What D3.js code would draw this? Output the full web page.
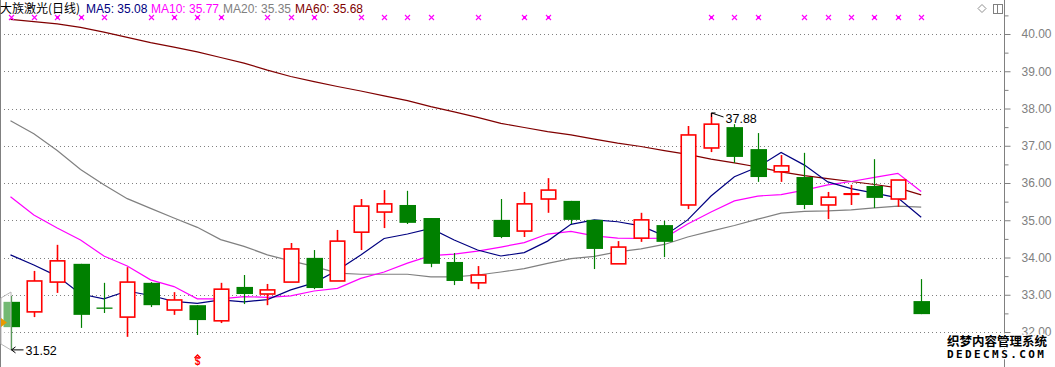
<!DOCTYPE html>
<html>
<head>
<meta charset="utf-8">
<script src="https://cdn.jsdelivr.net/npm/d3@7"></script>
<style>
html,body{margin:0;padding:0;background:#fff;}
svg{display:block;}
text{font-family:"Liberation Sans",Arial,sans-serif;}
</style>
</head>
<body>
<svg id="chart" width="1055" height="367"></svg>
<script>
// ---------- data ----------
const days = [1,2,3,4,5,6,7,8,9,10,11,12,13,14,15,16,17,18,19,20,21,22,23,24,25,26,27,28,29,30,31,32,33,34,35,36,37,38,39,40];
const open  = [32.81,32.54,33.34,33.83,32.65,32.40,33.32,32.59,32.72,32.30,33.21,33.02,33.34,33.99,33.37,34.68,35.22,35.41,35.06,33.88,33.32,35.01,34.71,35.57,35.52,35.01,33.83,34.52,34.87,35.41,36.94,37.50,36.91,36.30,36.16,35.41,35.70,35.92,35.57,32.83];
const high  = [32.97,33.64,34.34,33.83,33.32,33.74,33.34,33.07,32.72,33.32,33.53,33.29,34.39,34.20,34.74,35.57,35.81,35.79,35.06,34.12,33.77,35.57,35.76,36.13,35.52,35.01,34.44,35.20,34.98,37.53,37.88,37.58,37.34,36.75,36.81,35.76,35.95,36.64,36.08,33.42];
const low   = [31.52,32.40,33.05,32.11,32.51,31.87,32.67,32.46,31.92,32.24,32.75,32.72,33.34,33.15,33.37,34.20,34.79,34.90,33.74,33.26,33.15,34.52,34.55,35.20,34.90,33.69,33.83,34.42,34.01,35.30,36.83,36.54,36.03,36.03,35.30,35.03,35.41,35.33,35.36,32.48];
const close = [32.13,33.37,33.91,32.46,32.63,33.34,32.72,32.86,32.32,33.15,33.02,33.13,34.23,33.18,34.44,35.38,35.44,34.93,33.83,33.37,33.53,34.55,35.44,35.81,35.01,34.23,34.28,35.01,34.42,37.29,37.58,36.70,36.16,36.46,35.41,35.62,35.71,35.60,36.08,32.48];
const ma5  = [34.07,33.80,33.50,33.02,32.89,33.10,32.98,32.82,32.77,32.86,32.81,32.87,33.13,33.32,33.66,34.07,34.51,34.63,34.78,34.47,34.20,34.04,34.13,34.44,34.89,35.01,34.96,34.85,34.58,35.01,35.65,36.17,36.43,36.82,36.48,36.03,35.85,35.73,35.60,35.08];
const ma10 = [35.63,35.14,34.79,34.47,34.04,33.77,33.40,33.22,32.89,32.89,32.95,32.93,32.97,33.10,33.17,33.44,33.61,33.85,34.05,34.09,34.17,34.28,34.40,34.63,34.70,34.58,34.52,34.51,34.52,34.90,35.22,35.52,35.65,35.69,35.81,35.95,36.04,36.15,36.26,35.77];
const ma20 = [37.67,37.32,36.87,36.36,35.95,35.58,35.32,35.06,34.81,34.48,34.30,34.07,33.91,33.76,33.58,33.55,33.55,33.55,33.48,33.48,33.53,33.61,33.70,33.84,33.97,34.03,34.15,34.23,34.35,34.55,34.71,34.86,35.03,35.19,35.24,35.25,35.28,35.33,35.38,35.35];
const ma60 = [40.39,40.33,40.27,40.18,40.05,39.91,39.77,39.65,39.52,39.37,39.22,39.03,38.86,38.72,38.59,38.47,38.34,38.21,38.05,37.91,37.76,37.60,37.49,37.38,37.29,37.18,37.07,36.98,36.87,36.77,36.64,36.54,36.43,36.30,36.20,36.12,36.04,35.96,35.87,35.68];
const signalDays = [1,2,3,4,5,7,8,9,10,12,13,14,16,17,18,19,21,23,24,31,32,33,35,36,37,38,39,40];
const strongSignalDays = [3,4,8,9,10,14,23,24,31,33,38,39];
const yTicks = [32,33,34,35,36,37,38,39,40];
const yMinorTicks = [32.5,33.5,34.5,35.5,36.5,37.5,38.5,39.5,40.5];
const title = "大族激光(日线)";
const maNames = ["MA5","MA10","MA20","MA60"];
const highLabel = 37.88;
const lowLabel = 31.52;

// ---------- setup ----------
const svg = d3.select("#chart");
const W = 1055, H = 367;
const axisX = 1004.5;
const x = d3.scalePoint().domain(days).range([10.5, 921.2]);
const y = d3.scaleLinear().domain([32, 40]).range([332, 34]);
const bodyW = 16;

const rows = days.map((d,i)=>({d, o:open[i], h:high[i], l:low[i], c:close[i]}));

// grid (dotted)
svg.append("g").selectAll("line").data(yTicks).join("line")
  .attr("x1", 0).attr("x2", axisX)
  .attr("y1", d=>Math.round(y(d))+0.5).attr("y2", d=>Math.round(y(d))+0.5)
  .attr("stroke", "#808080").attr("stroke-dasharray", "1,3");

// left border
svg.append("line").attr("x1",0.5).attr("x2",0.5).attr("y1",0).attr("y2",H)
  .attr("stroke","#808080").attr("stroke-width",1);

// right axis
const axMajor = d3.axisRight(y).tickValues(yTicks).tickSize(6).tickPadding(11).tickFormat(d3.format(".2f"));
const gA = svg.append("g").attr("transform", `translate(${axisX},0)`).call(axMajor);
gA.select(".domain").remove();
gA.selectAll(".tick line").attr("stroke","#808080");
gA.selectAll(".tick text").attr("fill","#808080").style("font-size","12px").style("font-family",'"Liberation Sans",Arial,sans-serif');
const axMinor = d3.axisRight(y).tickValues(yMinorTicks).tickSize(4).tickFormat("");
const gM = svg.append("g").attr("transform", `translate(${axisX},0)`).call(axMinor);
gM.select(".domain").remove();
gM.selectAll(".tick line").attr("stroke","#808080");
svg.append("line").attr("x1",axisX).attr("x2",axisX).attr("y1",0).attr("y2",H).attr("stroke","#808080");

// MA lines
const maColors = ["#000080","#FF00FF","#808080","#800000"];
const maData = [ma5, ma10, ma20, ma60];
const lineGen = d3.line().x((v,i)=>x(days[i])).y(v=>y(v));
[3,2,1,0].forEach(k=>{
  svg.append("path").datum(maData[k]).attr("d", lineGen)
    .attr("fill","none").attr("stroke", maColors[k]).attr("stroke-width", 1.2);
});

// candles
const gC = svg.append("g");
rows.forEach(r=>{
  const cx = Math.round(x(r.d)) + 0.5;
  const up = r.c > r.o;
  const col = up ? "#FF0000" : "#008000";
  const top = y(Math.max(r.o, r.c)), bot = y(Math.min(r.o, r.c));
  if (up) {
    gC.append("line").attr("x1",cx).attr("x2",cx).attr("y1",y(r.h)).attr("y2",top)
      .attr("stroke",col).attr("stroke-width",1.6);
    gC.append("line").attr("x1",cx).attr("x2",cx).attr("y1",bot).attr("y2",y(r.l))
      .attr("stroke",col).attr("stroke-width",1.6);
    const hgt = Math.max(bot-top, 0.5);
    gC.append("rect").attr("x",cx-bodyW/2+0.75).attr("y",top).attr("width",bodyW-1.5).attr("height",hgt)
      .attr("fill","#fff").attr("fill-opacity", hgt < 2 ? 0 : 1).attr("stroke",col).attr("stroke-width",1.6);
  } else {
    gC.append("line").attr("x1",cx).attr("x2",cx).attr("y1",y(r.h)).attr("y2",y(r.l))
      .attr("stroke",col).attr("stroke-width",1.2);
    const hgt = bot-top;
    if (hgt < 2) {
      gC.append("line").attr("x1",cx-bodyW/2).attr("x2",cx+bodyW/2).attr("y1",(top+bot)/2).attr("y2",(top+bot)/2)
        .attr("stroke",col).attr("stroke-width",1.3);
    } else {
      gC.append("rect").attr("x",cx-bodyW/2).attr("y",top).attr("width",bodyW+0.5).attr("height",hgt).attr("fill",col);
    }
  }
});

// left overlay shape
svg.append("path").attr("d","M11,292 L1,298 L1,344 L11,350 Z")
  .attr("fill","#ffffff").attr("fill-opacity",0.45).attr("stroke","#b8b8b8").attr("stroke-width",1);
svg.append("path").attr("d","M1,318 L7,322.5 L1,327 Z").attr("fill","#E89A00");

// signal markers
const gS = svg.append("g");
signalDays.forEach(d=>{
  const cx = Math.round(x(d)) + 0.5, cy = 17.5;
  gS.append("path").attr("d",`M${cx-2.5},${cy-2.5}L${cx+2.5},${cy+2.5}M${cx+2.5},${cy-2.5}L${cx-2.5},${cy+2.5}`)
    .attr("stroke","#FF00FF").attr("stroke-width",1.1).attr("fill","none");
  if (strongSignalDays.includes(d)) {
    gS.append("rect").attr("x",cx-1.5).attr("y",cy-1.5).attr("width",3).attr("height",3).attr("fill","#FF00FF");
  }
});

// legend
svg.append("text").attr("x",0).attr("y",13).text(title)
  .style("font-family",'"Noto Sans CJK SC",sans-serif').style("font-size","12px").attr("fill","#000");
const legX = [86,151,223,295];
const maLast = maData.map(a=>a[a.length-1]);
maNames.forEach((n,k)=>{
  svg.append("text").attr("x",legX[k]).attr("y",13).attr("fill",maColors[k])
    .style("font-size","12px").text(`${n}: ${maLast[k].toFixed(2)}`);
});

// high / low annotations
const iHi = high.indexOf(highLabel);
const hx = Math.round(x(days[iHi])) + 0.5, hy = y(highLabel);
svg.append("path").attr("d",`M${hx},${hy+4}L${hx},${hy}L${hx+4},${hy}M${hx},${hy}L${hx+12},${hy+4}`)
  .attr("stroke","#000").attr("fill","none").attr("stroke-width",1);
svg.append("text").attr("x",hx+14).attr("y",hy+10).text(highLabel.toFixed(2))
  .style("font-size","12.5px").attr("fill","#000");

const iLo = low.indexOf(lowLabel);
const lx = Math.round(x(days[iLo])) + 0.5, ly = y(lowLabel);
svg.append("path").attr("d",`M${lx},${ly}L${lx+12},${ly}M${lx},${ly}L${lx+4},${ly-3}M${lx},${ly}L${lx+4},${ly+3}`)
  .attr("stroke","#000").attr("fill","none").attr("stroke-width",1);
svg.append("text").attr("x",lx+14).attr("y",ly+5).text(lowLabel.toFixed(2))
  .style("font-size","12.5px").attr("fill","#000");

// red $ marker
const dx = Math.round(x(days[8])) + 0.5;
svg.append("path").attr("d",`M${dx-3},${358}L${dx},${355}L${dx+3},${358}`).attr("stroke","#FF0000").attr("fill","none").attr("stroke-width",1.5);
svg.append("text").attr("x",dx).attr("y",365).attr("text-anchor","middle").attr("fill","#FF0000")
  .style("font-size","10px").style("font-weight","bold").text("$");

// top-right icons
svg.append("path").attr("d","M982,4.5 L986,8.5 L982,12.5 L978,8.5 Z").attr("fill","none").attr("stroke","#909090");
svg.append("rect").attr("x",993.5).attr("y",4.5).attr("width",9).attr("height",9).attr("fill","none").attr("stroke","#808080");
svg.append("line").attr("x1",997.5).attr("x2",997.5).attr("y1",4.5).attr("y2",13.5).attr("stroke","#808080");

// watermark
svg.append("text").attr("x",947).attr("y",346).text("织梦内容管理系统")
  .style("font-family",'"Noto Sans CJK SC",sans-serif').style("font-size","12.5px").style("font-weight","bold")
  .attr("fill","#000").attr("stroke","#fff").attr("stroke-width",2.5).attr("paint-order","stroke");
svg.append("text").attr("x",947).attr("y",358).text("DEDECMS.COM")
  .style("font-family",'"DejaVu Sans Mono",monospace').style("font-size","11px").style("font-weight","bold")
  .style("letter-spacing","2.4px")
  .attr("fill","#000").attr("stroke","#fff").attr("stroke-width",2.5).attr("paint-order","stroke");
</script>
</body>
</html>
